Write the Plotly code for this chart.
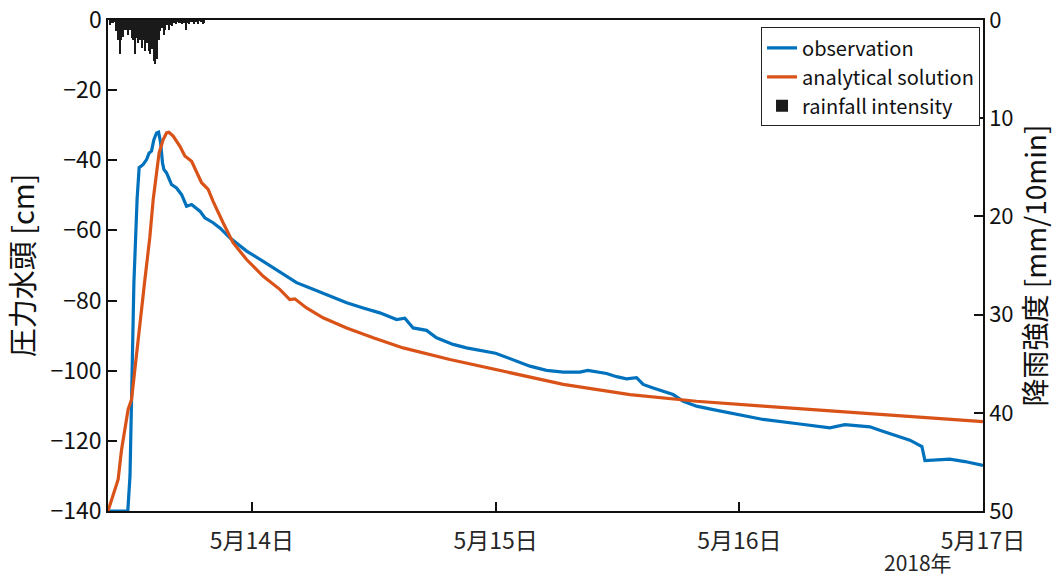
import pandas as pd
import plotly.graph_objects as go

# Observed pressure head [cm]
obs_time = [
    "2018-05-13 09:50", "2018-05-13 11:47", "2018-05-13 12:00", "2018-05-13 12:11",
    "2018-05-13 12:23", "2018-05-13 12:42", "2018-05-13 12:54", "2018-05-13 13:18",
    "2018-05-13 13:38", "2018-05-13 13:53", "2018-05-13 14:07", "2018-05-13 14:21",
    "2018-05-13 14:37", "2018-05-13 14:49", "2018-05-13 15:01", "2018-05-13 15:12",
    "2018-05-13 15:20", "2018-05-13 15:36", "2018-05-13 15:55", "2018-05-13 16:05",
    "2018-05-13 16:35", "2018-05-13 17:05", "2018-05-13 17:34", "2018-05-13 18:04",
    "2018-05-13 18:53", "2018-05-13 19:22", "2018-05-13 20:11", "2018-05-13 20:51",
    "2018-05-13 21:50", "2018-05-13 23:29", "2018-05-14 01:07", "2018-05-14 02:45",
    "2018-05-14 04:24", "2018-05-14 06:02", "2018-05-14 07:41", "2018-05-14 09:20",
    "2018-05-14 10:58", "2018-05-14 12:36", "2018-05-14 14:15", "2018-05-14 15:04",
    "2018-05-14 15:53", "2018-05-14 17:12", "2018-05-14 18:11", "2018-05-14 19:49",
    "2018-05-14 21:08", "2018-05-15 00:00", "2018-05-15 03:23", "2018-05-15 05:01",
    "2018-05-15 06:40", "2018-05-15 08:18", "2018-05-15 09:05", "2018-05-15 09:57",
    "2018-05-15 10:56", "2018-05-15 11:55", "2018-05-15 12:54", "2018-05-15 13:53",
    "2018-05-15 14:32", "2018-05-15 15:31", "2018-05-15 16:31", "2018-05-15 17:29",
    "2018-05-15 18:29", "2018-05-15 19:47", "2018-05-15 21:26", "2018-05-15 23:04",
    "2018-05-16 00:43", "2018-05-16 02:21", "2018-05-16 05:58", "2018-05-16 08:55",
    "2018-05-16 10:24", "2018-05-16 12:52", "2018-05-16 13:50", "2018-05-16 15:19",
    "2018-05-16 16:48", "2018-05-16 17:59", "2018-05-16 18:17", "2018-05-16 20:44",
    "2018-05-16 22:13", "2018-05-17 00:00",
]
obs_head = [
    -140.0, -140.0, -130.0, -108.0,
    -75.0, -51.0, -42.1, -41.2,
    -39.8, -37.9, -37.4, -34.1,
    -32.2, -32.0, -35.0, -40.7,
    -42.6, -43.6, -45.5, -46.9,
    -47.9, -49.8, -53.1, -52.6,
    -54.5, -56.4, -57.8, -59.3,
    -62.1, -65.9, -68.8, -71.9,
    -74.9, -76.8, -78.8, -80.6,
    -82.1, -83.5, -85.4, -85.0,
    -87.8, -88.5, -90.6, -92.5,
    -93.5, -95.0, -98.7, -99.9,
    -100.4, -100.4, -99.9, -100.4,
    -100.8, -101.7, -102.3, -102.0,
    -103.9, -104.9, -105.8, -106.8,
    -108.7, -110.1, -111.1, -112.0,
    -113.1, -113.9, -115.2, -116.3,
    -115.4, -116.0, -117.0, -118.3,
    -119.8, -121.6, -125.6, -125.2,
    -125.9, -127.0,
]

# Analytical solution [cm]
ana_time = [
    "2018-05-13 09:50", "2018-05-13 09:59", "2018-05-13 10:29", "2018-05-13 10:50",
    "2018-05-13 11:10", "2018-05-13 11:30", "2018-05-13 11:49", "2018-05-13 12:09",
    "2018-05-13 12:34", "2018-05-13 12:58", "2018-05-13 13:28", "2018-05-13 13:57",
    "2018-05-13 14:17", "2018-05-13 14:37", "2018-05-13 14:52", "2018-05-13 15:16",
    "2018-05-13 15:36", "2018-05-13 15:50", "2018-05-13 16:15", "2018-05-13 16:55",
    "2018-05-13 17:24", "2018-05-13 18:04", "2018-05-13 18:33", "2018-05-13 19:03",
    "2018-05-13 19:42", "2018-05-13 20:11", "2018-05-13 21:10", "2018-05-13 22:09",
    "2018-05-13 23:29", "2018-05-14 01:07", "2018-05-14 02:45", "2018-05-14 03:44",
    "2018-05-14 04:14", "2018-05-14 05:23", "2018-05-14 07:01", "2018-05-14 09:20",
    "2018-05-14 11:57", "2018-05-14 14:54", "2018-05-14 19:30", "2018-05-15 00:00",
    "2018-05-15 06:40", "2018-05-15 13:14", "2018-05-15 19:47", "2018-05-16 02:21",
    "2018-05-16 10:53", "2018-05-16 17:47", "2018-05-17 00:00",
]
ana_head = [
    -140.0, -138.6, -133.9, -131.0,
    -122.5, -115.8, -111.0, -108.2,
    -97.0, -86.0, -74.0, -62.0,
    -51.2, -43.6, -37.9, -34.1,
    -32.2, -32.0, -33.1, -36.0,
    -38.8, -40.3, -43.1, -46.4,
    -48.3, -51.7, -57.8, -63.5,
    -68.3, -73.1, -76.8, -79.7,
    -79.5, -82.1, -84.9, -87.8,
    -90.6, -93.5, -96.8, -99.7,
    -103.9, -106.8, -108.7, -110.1,
    -111.8, -113.2, -114.5,
]

# Rainfall intensity [mm/10min], 10-minute records from 2018-05-13 10:00
rain_start = "2018-05-13 10:00"
rain_mm = [
    0.5, 0.3, 0.3, 0.2, 1.1, 2.0, 3.5, 2.0, 1.7, 1.0,
    1.0, 1.5, 1.0, 1.8, 2.0, 3.5, 1.8, 2.3, 2.0, 2.8,
    2.0, 3.2, 2.3, 3.2, 3.5, 3.0, 4.2, 4.5, 4.0, 2.0,
    1.1, 0.8, 1.5, 1.0, 0.5, 1.0, 0.5, 0.6, 0.3, 0.4,
    0.2, 0.3, 0.3, 0.4, 0.3, 1.0, 0.3, 0.4, 0.2, 0.2,
    0.4, 0.2, 0.4, 0.1, 0.2, 0.4, 0.3,
]
rain_time = pd.date_range(rain_start, periods=len(rain_mm), freq="10min")

x_ticks = ["2018-05-14", "2018-05-15", "2018-05-16", "2018-05-17"]
x_tick_text = ["5月14日", "5月15日", "5月16日", "5月17日"]
y_ticks = [-140, -120, -100, -80, -60, -40, -20, 0]
y2_ticks = [0, 10, 20, 30, 40, 50]

FONT = "Noto Sans CJK JP, Noto Sans, sans-serif"
INK = "#111111"
BLUE = "#0072BD"
ORANGE = "#D95319"

fig = go.Figure()
fig.add_trace(go.Scatter(
    x=pd.to_datetime(obs_time), y=obs_head, mode="lines", name="observation",
    line=dict(color=BLUE, width=3.2),
))
fig.add_trace(go.Scatter(
    x=pd.to_datetime(ana_time), y=ana_head, mode="lines", name="analytical solution",
    line=dict(color=ORANGE, width=3.2),
))
fig.add_trace(go.Bar(
    x=rain_time, y=rain_mm, name="rainfall intensity", yaxis="y2",
    marker=dict(color="#1a1a1a", line=dict(width=0)),
    width=7 * 60 * 1000,
))

axis_common = dict(
    ticks="inside", ticklen=9, tickwidth=1.5, tickcolor=INK,
    showline=True, linecolor=INK, linewidth=1.5,
    showgrid=False, zeroline=False, automargin=False,
)

fig.update_layout(
    width=1059, height=581,
    margin=dict(l=108, r=76, t=20, b=70, autoexpand=False),
    paper_bgcolor="white", plot_bgcolor="white",
    font=dict(family=FONT, size=22, color=INK),
    bargap=0,
    xaxis=dict(
        type="date",
        range=["2018-05-13 09:50", "2018-05-17 00:00"],
        tickvals=x_ticks, ticktext=x_tick_text,
        mirror=True, ticklabelstandoff=9,
        tickfont=dict(size=23, color="#262626"),
        **axis_common,
    ),
    yaxis=dict(
        range=[-140, 0], tickvals=y_ticks,
        tickfont=dict(size=23, color=INK),
        title=dict(text="圧力水頭 [cm]", font=dict(size=29, color=INK), standoff=12),
        **axis_common,
    ),
    yaxis2=dict(
        overlaying="y", side="right",
        range=[50, 0], tickvals=y2_ticks,
        tickfont=dict(size=22, color=INK),
        title=dict(text="降雨強度 [mm/10min]", font=dict(size=28, color=INK), standoff=10),
        **axis_common,
    ),
    legend=dict(
        x=0.9966, y=0.985, xanchor="right", yanchor="top",
        bgcolor="white", bordercolor="#222222", borderwidth=1,
        font=dict(size=20, color=INK),
        itemwidth=30, tracegroupgap=0,
    ),
    annotations=[dict(
        text="2018年", xref="paper", yref="paper", x=0.9257, y=-0.139,
        xanchor="center", yanchor="bottom", showarrow=False,
        font=dict(size=21, color="#262626"),
    )],
)

fig.write_html("out.html")
